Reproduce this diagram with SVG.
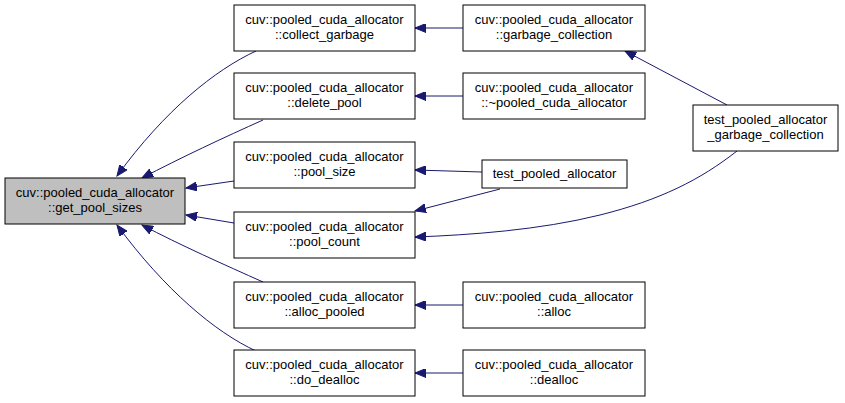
<svg xmlns="http://www.w3.org/2000/svg" width="845" height="403" viewBox="0 0 845 403">
<defs>
<style>
.n rect{fill:#ffffff;stroke:#000000;stroke-width:1}
.n.hl rect{fill:#bfbfbf}
.n text{font-family:"Liberation Sans",Arial,sans-serif;font-size:13px;fill:#000000;text-anchor:middle}
.e path{fill:none;stroke:#191970;stroke-width:1}
</style>
<marker id="ah" markerUnits="userSpaceOnUse" markerWidth="12" markerHeight="9" refX="11" refY="4.5" orient="auto" viewBox="0 0 12 9">
<path d="M0,0 L11,4.5 L0,9 z" fill="#191970" stroke="#191970" stroke-width="1"/>
</marker>
</defs>
<rect width="845" height="403" fill="#ffffff"/>
<g id="edges" class="e">
<path d="M256,51 C215,70 165,110 117,176" marker-end="url(#ah)"/>
<path d="M263,120 C225,137 180,158 142,178" marker-end="url(#ah)"/>
<path d="M234,181 L186,188" marker-end="url(#ah)"/>
<path d="M234,223 L186,215" marker-end="url(#ah)"/>
<path d="M263,282 C225,265 180,245 142,225" marker-end="url(#ah)"/>
<path d="M256,351 C215,332 165,290 117,225" marker-end="url(#ah)"/>
<path d="M463,28 L415,28" marker-end="url(#ah)"/>
<path d="M463,96 L415,96" marker-end="url(#ah)"/>
<path d="M482,172 L415,170" marker-end="url(#ah)"/>
<path d="M500,189 L415,211" marker-end="url(#ah)"/>
<path d="M727,105 L625,51" marker-end="url(#ah)"/>
<path d="M737,151 C700,180 660,200 600,215 C540,230 470,235 415,237" marker-end="url(#ah)"/>
<path d="M463,305 L415,305" marker-end="url(#ah)"/>
<path d="M463,373 L415,373" marker-end="url(#ah)"/>
</g>
<g id="get_pool_sizes" class="n hl">
<rect x="5" y="178" width="180" height="46"/>
<text x="95" y="197">cuv::pooled_cuda_allocator</text>
<text x="95" y="212">::get_pool_sizes</text>
</g>
<g id="collect_garbage" class="n">
<rect x="234" y="5" width="181" height="46"/>
<text x="324.5" y="24">cuv::pooled_cuda_allocator</text>
<text x="324.5" y="39">::collect_garbage</text>
</g>
<g id="delete_pool" class="n">
<rect x="234" y="73" width="181" height="46"/>
<text x="324.5" y="92">cuv::pooled_cuda_allocator</text>
<text x="324.5" y="107">::delete_pool</text>
</g>
<g id="pool_size" class="n">
<rect x="234" y="142" width="181" height="46"/>
<text x="324.5" y="161">cuv::pooled_cuda_allocator</text>
<text x="324.5" y="176">::pool_size</text>
</g>
<g id="pool_count" class="n">
<rect x="234" y="212" width="181" height="46"/>
<text x="324.5" y="231">cuv::pooled_cuda_allocator</text>
<text x="324.5" y="246">::pool_count</text>
</g>
<g id="alloc_pooled" class="n">
<rect x="234" y="282" width="181" height="46"/>
<text x="324.5" y="301">cuv::pooled_cuda_allocator</text>
<text x="324.5" y="316">::alloc_pooled</text>
</g>
<g id="do_dealloc" class="n">
<rect x="234" y="350" width="181" height="46"/>
<text x="324.5" y="369">cuv::pooled_cuda_allocator</text>
<text x="324.5" y="384">::do_dealloc</text>
</g>
<g id="garbage_collection" class="n">
<rect x="463" y="5" width="182" height="46"/>
<text x="554" y="24">cuv::pooled_cuda_allocator</text>
<text x="554" y="39">::garbage_collection</text>
</g>
<g id="dtor" class="n">
<rect x="463" y="73" width="182" height="46"/>
<text x="554" y="92">cuv::pooled_cuda_allocator</text>
<text x="554" y="107">::~pooled_cuda_allocator</text>
</g>
<g id="test_pooled_allocator" class="n">
<rect x="482" y="160" width="145" height="28"/>
<text x="554.5" y="178">test_pooled_allocator</text>
</g>
<g id="alloc" class="n">
<rect x="463" y="282" width="182" height="46"/>
<text x="554" y="301">cuv::pooled_cuda_allocator</text>
<text x="554" y="316">::alloc</text>
</g>
<g id="dealloc" class="n">
<rect x="463" y="350" width="182" height="46"/>
<text x="554" y="369">cuv::pooled_cuda_allocator</text>
<text x="554" y="384">::dealloc</text>
</g>
<g id="test_pooled_allocator_garbage_collection" class="n">
<rect x="693" y="105" width="145" height="46"/>
<text x="765.5" y="124">test_pooled_allocator</text>
<text x="765.5" y="139">_garbage_collection</text>
</g>
</svg>
